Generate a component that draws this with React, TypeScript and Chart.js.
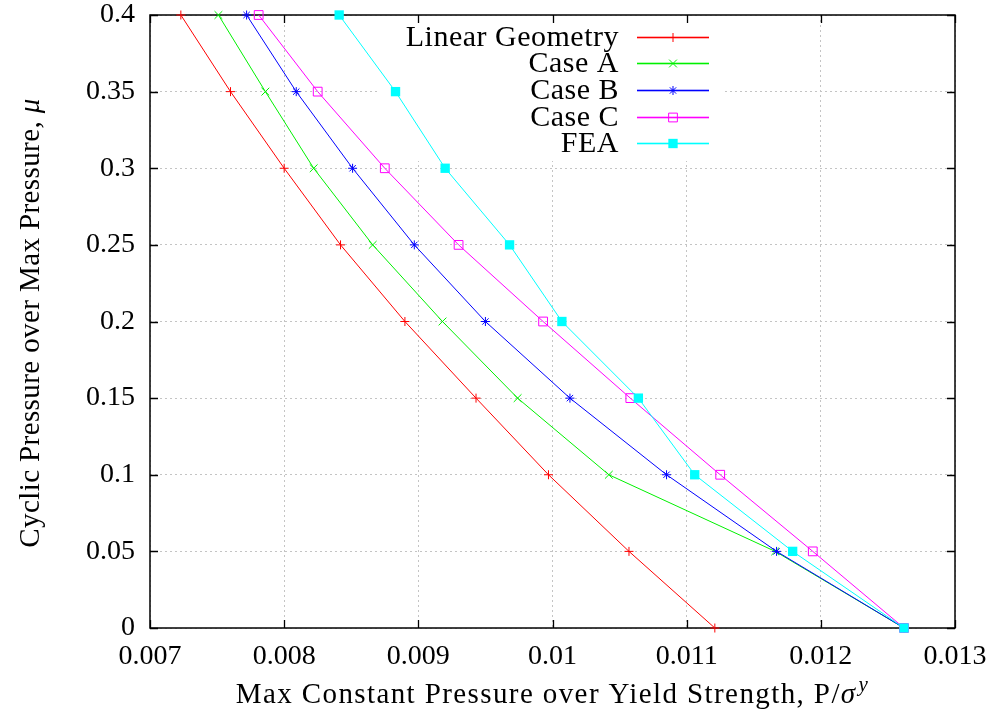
import React, { useEffect, useRef } from "react";
import { Chart, registerables } from "chart.js";

Chart.register(...registerables);

const muValues = [0, 0.05, 0.1, 0.15, 0.2, 0.25, 0.3, 0.35, 0.4];
const linearGeometry = [0.01121, 0.01057, 0.00997, 0.00943, 0.0089, 0.00842, 0.008, 0.0076, 0.00723];
const caseA = [0.01262, 0.01166, 0.01042, 0.00974, 0.00918, 0.00866, 0.00822, 0.00786, 0.00751];
const caseB = [0.01262, 0.01167, 0.01085, 0.01013, 0.0095, 0.00897, 0.00851, 0.00809, 0.00772];
const caseC = [0.01262, 0.01194, 0.01125, 0.01058, 0.00993, 0.0093, 0.00875, 0.00825, 0.00781];
const fea = [0.01262, 0.01179, 0.01106, 0.01064, 0.01007, 0.00968, 0.0092, 0.00883, 0.00841];

const seriesNames = ["Linear Geometry", "Case A", "Case B", "Case C", "FEA"];
const seriesColors = ["#ff0000", "#00f000", "#0000ff", "#ff00ff", "#00ffff"];
const seriesMarkers = ["cross", "crossRot", "star", "rect", "rect"];
const seriesFilled = [false, false, false, false, true];
const seriesRadius = [4.5, 5.5, 4.5, 6.2, 6.6];

const xTicks = [0.007, 0.008, 0.009, 0.01, 0.011, 0.012, 0.013];
const xTickLabels = ["0.007", "0.008", "0.009", "0.01", "0.011", "0.012", "0.013"];
const yTicks = [0, 0.05, 0.1, 0.15, 0.2, 0.25, 0.3, 0.35, 0.4];
const yTickLabels = ["0", "0.05", "0.1", "0.15", "0.2", "0.25", "0.3", "0.35", "0.4"];

const FONT = "'Liberation Serif', 'Times New Roman', serif";

function drawMarker(ctx: CanvasRenderingContext2D, kind: string, x: number, y: number, r: number, color: string, filled: boolean) {
  ctx.save();
  ctx.setLineDash([]);
  ctx.strokeStyle = color;
  ctx.fillStyle = color;
  ctx.lineWidth = 1;
  ctx.beginPath();
  if (kind === "cross") {
    ctx.moveTo(x - r, y); ctx.lineTo(x + r, y);
    ctx.moveTo(x, y - r); ctx.lineTo(x, y + r);
    ctx.stroke();
  } else if (kind === "crossRot") {
    const d = r * Math.SQRT1_2;
    ctx.moveTo(x - d, y - d); ctx.lineTo(x + d, y + d);
    ctx.moveTo(x - d, y + d); ctx.lineTo(x + d, y - d);
    ctx.stroke();
  } else if (kind === "star") {
    const d = r * Math.SQRT1_2;
    ctx.moveTo(x - r, y); ctx.lineTo(x + r, y);
    ctx.moveTo(x, y - r); ctx.lineTo(x, y + r);
    ctx.moveTo(x - d, y - d); ctx.lineTo(x + d, y + d);
    ctx.moveTo(x - d, y + d); ctx.lineTo(x + d, y - d);
    ctx.stroke();
  } else {
    const s = r * Math.SQRT1_2;
    ctx.rect(x - s, y - s, 2 * s, 2 * s);
    if (filled) ctx.fill(); else ctx.stroke();
  }
  ctx.restore();
}

const LEGEND_BOX = { x1: 380, x2: 723, y1: 16, y2: 161 };

const framePlugin = {
  id: "gnuplotFrame",
  beforeDatasetsDraw(chart: any) {
    const { ctx, chartArea: a, scales } = chart;
    ctx.save();
    ctx.setLineDash([]);
    ctx.fillStyle = "#ffffff";
    ctx.fillRect(LEGEND_BOX.x1, LEGEND_BOX.y1, LEGEND_BOX.x2 - LEGEND_BOX.x1, LEGEND_BOX.y2 - LEGEND_BOX.y1);
    ctx.strokeStyle = "#000000";
    ctx.lineWidth = 1.3;
    ctx.beginPath();
    const tl = 8;
    xTicks.forEach((v) => {
      const px = Math.round(scales.x.getPixelForValue(v)) + 0.5;
      ctx.moveTo(px, a.bottom); ctx.lineTo(px, a.bottom - tl);
      ctx.moveTo(px, a.top); ctx.lineTo(px, a.top + tl);
    });
    yTicks.forEach((v) => {
      const py = Math.round(scales.y.getPixelForValue(v)) + 0.5;
      ctx.moveTo(a.left, py); ctx.lineTo(a.left + tl, py);
      ctx.moveTo(a.right, py); ctx.lineTo(a.right - tl, py);
    });
    ctx.stroke();
    ctx.lineWidth = 1.5;
    ctx.strokeRect(a.left, a.top, a.right - a.left, a.bottom - a.top);

    ctx.fillStyle = "#000";
    ctx.textBaseline = "alphabetic";
    ctx.textAlign = "left";
    // x title
    const xt1 = "Max Constant Pressure over Yield Strength, P/";
    (ctx as any).letterSpacing = "1.4px";
    ctx.font = `29px ${FONT}`;
    const w1 = ctx.measureText(xt1).width;
    ctx.font = `italic 29px ${FONT}`;
    const w2 = ctx.measureText("σ").width;
    ctx.font = `italic 21px ${FONT}`;
    const w3 = ctx.measureText("y").width;
    const total = w1 + w2 + w3 + 2;
    const cx = (a.left + a.right) / 2;
    let x0 = cx - total / 2;
    const by = 703;
    ctx.font = `29px ${FONT}`;
    ctx.fillText(xt1, x0, by);
    x0 += w1;
    ctx.font = `italic 29px ${FONT}`;
    ctx.fillText("σ", x0, by);
    x0 += w2 + 2;
    ctx.font = `italic 21px ${FONT}`;
    ctx.fillText("y", x0, by - 12);

    // y title
    ctx.save();
    ctx.translate(39, 323);
    ctx.rotate(-Math.PI / 2);
    (ctx as any).letterSpacing = "0.4px";
    const yt1 = "Cyclic Pressure over Max Pressure, ";
    ctx.font = `29px ${FONT}`;
    const yw1 = ctx.measureText(yt1).width;
    ctx.font = `italic 29px ${FONT}`;
    const yw2 = ctx.measureText("μ").width;
    let y0 = -(yw1 + yw2) / 2;
    ctx.font = `29px ${FONT}`;
    ctx.fillText(yt1, y0, 0);
    y0 += yw1;
    ctx.font = `italic 29px ${FONT}`;
    ctx.fillText("μ", y0, 0);
    ctx.restore();
    (ctx as any).letterSpacing = "0px";
    ctx.restore();
  },
  afterDatasetsDraw(chart: any) {
    const { ctx } = chart;
    ctx.save();
    ctx.setLineDash([]);
    (ctx as any).letterSpacing = "0.5px";
    ctx.font = `30px ${FONT}`;
    ctx.fillStyle = "#000";
    ctx.textAlign = "right";
    ctx.textBaseline = "middle";
    const rowY = [37, 63, 90, 117, 143];
    seriesNames.forEach((name, i) => {
      ctx.fillText(name, 619, rowY[i] + 1);
    });
    (ctx as any).letterSpacing = "0px";
    seriesNames.forEach((_name, i) => {
      const y = rowY[i];
      ctx.fillStyle = seriesColors[i];
      ctx.fillRect(637, y - 0.3, 72, 1.6);
      drawMarker(ctx, seriesMarkers[i], 673, y + 0.5, seriesRadius[i], seriesColors[i], seriesFilled[i]);
    });
    ctx.restore();
  },
};

export default function App() {
  const canvasRef = useRef<HTMLCanvasElement | null>(null);

  useEffect(() => {
    const canvas = canvasRef.current;
    if (!canvas) return;
    const allSeries = [linearGeometry, caseA, caseB, caseC, fea];
    const datasets = allSeries.map((vals, i) => ({
      label: seriesNames[i],
      data: vals.map((x, k) => ({ x, y: muValues[k] })),
      showLine: true,
      borderColor: seriesColors[i],
      backgroundColor: seriesFilled[i] ? seriesColors[i] : "rgba(0,0,0,0)",
      pointBorderColor: seriesColors[i],
      pointBackgroundColor: seriesFilled[i] ? seriesColors[i] : "rgba(0,0,0,0)",
      pointStyle: seriesMarkers[i],
      pointRadius: seriesRadius[i],
      pointHoverRadius: seriesRadius[i],
      pointBorderWidth: seriesFilled[i] ? 0 : 1,
      borderWidth: 1,
      tension: 0,
      clip: false as any,
      order: 4 - i,
    }));

    const chart = new Chart(canvas, {
      type: "scatter",
      data: { datasets: datasets as any },
      plugins: [framePlugin as any],
      options: {
        responsive: false,
        animation: false,
        devicePixelRatio: 1,
        layout: { padding: { top: 15, right: 42, left: 0, bottom: 0 } },
        plugins: { legend: { display: false }, tooltip: { enabled: false } },
        scales: {
          x: {
            type: "linear",
            min: 0.007,
            max: 0.013,
            afterBuildTicks: (s: any) => {
              s.ticks = xTicks.map((v) => ({ value: v }));
            },
            afterFit: (s: any) => {
              s.height = 85;
              s.paddingLeft = 0;
              s.paddingRight = 0;
            },
            ticks: {
              autoSkip: false,
              maxRotation: 0,
              padding: 12,
              color: "#000",
              font: { family: FONT, size: 28 },
              callback: (_v: any, i: number) => xTickLabels[i],
            },
            grid: { color: "#c4c4c4", lineWidth: 1, drawTicks: false },
            border: { display: false, dash: [2, 3] },
          },
          y: {
            type: "linear",
            min: 0,
            max: 0.4,
            afterBuildTicks: (s: any) => {
              s.ticks = yTicks.map((v) => ({ value: v }));
            },
            afterFit: (s: any) => {
              s.width = 150;
              s.paddingTop = 0;
              s.paddingBottom = 0;
            },
            ticks: {
              autoSkip: false,
              padding: 15,
              color: "#000",
              font: { family: FONT, size: 28 },
              callback: (_v: any, i: number) => yTickLabels[i],
            },
            grid: { color: "#c4c4c4", lineWidth: 1, drawTicks: false },
            border: { display: false, dash: [2, 3] },
          },
        },
      },
    });
    return () => chart.destroy();
  }, []);

  return (
    <div style={{ position: "absolute", left: 0, top: 0, width: 997, height: 713, background: "#fff" }}>
      <canvas ref={canvasRef} width={997} height={713} style={{ display: "block" }} />
    </div>
  );
}
